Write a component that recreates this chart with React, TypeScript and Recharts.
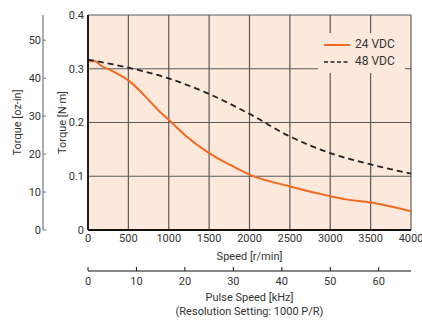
import {
  LineChart,
  Line,
  XAxis,
  YAxis,
  CartesianGrid,
  Legend,
} from "recharts";

// --- Colors ---
const COLORS = {
  plot: "#fde9dc",
  grid: "#5a5a5a",
  axis: "#111111",
  text: "#333333",
  v24: "#f26a21",
  v48: "#222222",
};

const FONT = 'Roboto, "Liberation Sans", sans-serif';

// --- Data ---
const SPEED_24 = [0, 90, 150, 310, 520, 700, 890, 1000, 1220, 1500, 1760, 2000, 2500, 3000, 3200, 3500, 4000];
const TORQUE_24 = [0.314, 0.314, 0.307, 0.295, 0.276, 0.25, 0.22, 0.205, 0.174, 0.143, 0.121, 0.103, 0.081, 0.063, 0.057, 0.051, 0.035];

const SPEED_48 = [0, 500, 1000, 1500, 2000, 2500, 3000, 3500, 4000];
const TORQUE_48 = [0.317, 0.302, 0.282, 0.253, 0.216, 0.174, 0.143, 0.122, 0.105];

const SPEED_TICKS = [0, 500, 1000, 1500, 2000, 2500, 3000, 3500, 4000];
const PULSE_TICKS = [0, 10, 20, 30, 40, 50, 60]; // kHz
const NM_TICKS = [0, 0.1, 0.2, 0.3, 0.4];
const OZIN_TICKS = [0, 10, 20, 30, 40, 50];

const SERIES = [
  { name: "24 VDC", color: COLORS.v24, dash: undefined, speed: SPEED_24, torque: TORQUE_24 },
  { name: "48 VDC", color: COLORS.v48, dash: "6 4", speed: SPEED_48, torque: TORQUE_48 },
];

// scale helpers
const SPEED_MAX = 4000;
const NM_MAX = 0.4;
const RPM_PER_KHZ = 60; // 1000 P/R: 1 kHz = 1 r/s = 60 r/min
const OZIN_MAX = NM_MAX * 141.612;

const tickText = { fill: COLORS.text, fontSize: 11, fontFamily: FONT };

function VerticalLabel({ viewBox, value, cx }: any) {
  const y = viewBox.y + viewBox.height / 2;
  const x = viewBox.x + cx;
  return (
    <text
      x={x}
      y={y}
      transform={`rotate(-90, ${x}, ${y})`}
      textAnchor="middle"
      dominantBaseline="central"
      fill={COLORS.text}
      fontSize={11}
      fontFamily={FONT}
    >
      {value}
    </text>
  );
}

function PulseLabel({ viewBox }: any) {
  const cx = viewBox.x + viewBox.width / 2;
  return (
    <text textAnchor="middle" fill={COLORS.text} fontSize={11} fontFamily={FONT}>
      <tspan x={cx} y={viewBox.y + 30}>Pulse Speed [kHz]</tspan>
      <tspan x={cx} y={viewBox.y + 44}>(Resolution Setting: 1000 P/R)</tspan>
    </text>
  );
}

// ticks pointing up from the pulse axis line
function PulseTick({ x, y, payload }: any) {
  return (
    <g>
      <line x1={x} x2={x} y1={y - 6} y2={y - 10} stroke={COLORS.axis} strokeWidth={1} />
      <text x={x} y={y} dy="0.71em" textAnchor="middle" {...tickText}>
        {Math.round(payload.value / RPM_PER_KHZ)}
      </text>
    </g>
  );
}

// ticks pointing right (toward the plot) on the oz-in axis
function OzTick({ x, y, payload }: any) {
  return (
    <g>
      <line x1={x + 2} x2={x + 5} y1={y} y2={y} stroke="#777" strokeWidth={1} />
      <text x={x} y={y} dy="0.355em" textAnchor="end" {...tickText}>
        {payload.value}
      </text>
    </g>
  );
}

function LegendBox() {
  return (
    <div
      style={{
        background: COLORS.plot,
        padding: "3px 6px",
        fontFamily: FONT,
        fontSize: 12,
        color: COLORS.text,
        lineHeight: "17px",
      }}
    >
      {SERIES.map((s) => (
        <div key={s.name} style={{ display: "flex", alignItems: "center" }}>
          <svg width={28} height={8} style={{ marginRight: 3 }}>
            <line
              x1={0}
              x2={26}
              y1={4}
              y2={4}
              stroke={s.color}
              strokeWidth={s.dash ? 1.5 : 2}
              strokeDasharray={s.dash ? "4 2.5" : undefined}
            />
          </svg>
          <span>{s.name}</span>
        </div>
      ))}
    </div>
  );
}

export default function App() {
  return (
    <div style={{ position: "absolute", left: 0, top: 0, width: 422, height: 320, background: "#fff" }}>
      <LineChart width={422} height={320} margin={{ top: 15, right: 11, left: 0, bottom: 2 }}>
        <CartesianGrid
          xAxisId="a_speed"
          yAxisId="a_nm"
          fill={COLORS.plot}
          fillOpacity={1}
          stroke={COLORS.grid}
          strokeWidth={1.2}
        />
        <XAxis
          xAxisId="a_speed"
          dataKey="speed"
          type="number"
          domain={[0, SPEED_MAX]}
          ticks={SPEED_TICKS}
          allowDataOverflow
          interval={0}
          height={41}
          tickSize={0}
          tickMargin={4}
          tickLine={false}
          axisLine={{ stroke: COLORS.axis, strokeWidth: 1.8 }}
          tick={tickText}
          label={{ value: "Speed [r/min]", position: "insideBottom", offset: 11, fill: COLORS.text, fontSize: 11, fontFamily: FONT }}
        />
        <XAxis
          xAxisId="b_pulse"
          dataKey="speed"
          type="number"
          domain={[0, SPEED_MAX]}
          ticks={PULSE_TICKS.map((k) => k * RPM_PER_KHZ)}
          allowDataOverflow
          interval={0}
          height={47}
          tickSize={0}
          tickMargin={6}
          tickLine={false}
          axisLine={{ stroke: COLORS.axis, strokeWidth: 1.2 }}
          tick={<PulseTick />}
          label={<PulseLabel />}
        />
        <YAxis
          yAxisId="a_nm"
          type="number"
          domain={[0, NM_MAX]}
          ticks={NM_TICKS}
          allowDataOverflow
          interval={0}
          width={45}
          tickSize={0}
          tickMargin={4}
          tickLine={false}
          axisLine={{ stroke: COLORS.axis, strokeWidth: 1.8 }}
          tick={tickText}
          tickFormatter={(v: number) => (v === 0 ? "0" : v.toFixed(1))}
          label={<VerticalLabel value="Torque [N·m]" cx={19} />}
        />
        <YAxis
          yAxisId="b_ozin"
          type="number"
          domain={[0, OZIN_MAX]}
          ticks={OZIN_TICKS}
          allowDataOverflow
          interval={0}
          width={43}
          tickSize={0}
          tickMargin={2}
          tickLine={false}
          axisLine={{ stroke: "#777", strokeWidth: 1.2 }}
          tick={<OzTick />}
          label={<VerticalLabel value="Torque [oz-in]" cx={17} />}
        />
        <Legend
          layout="horizontal"
          verticalAlign="middle"
          align="center"
          wrapperStyle={{ top: 33, left: 318, width: 87, height: 37 }}
          content={<LegendBox />}
        />
        {SERIES.map((s) => (
          <Line
            key={s.name}
            name={s.name}
            xAxisId="a_speed"
            yAxisId="a_nm"
            data={s.speed.map((sp, i) => ({ speed: sp, torque: s.torque[i] }))}
            dataKey="torque"
            type="monotone"
            stroke={s.color}
            strokeWidth={s.dash ? 1.8 : 2}
            strokeDasharray={s.dash}
            dot={false}
            activeDot={false}
            isAnimationActive={false}
          />
        ))}
      </LineChart>
    </div>
  );
}
